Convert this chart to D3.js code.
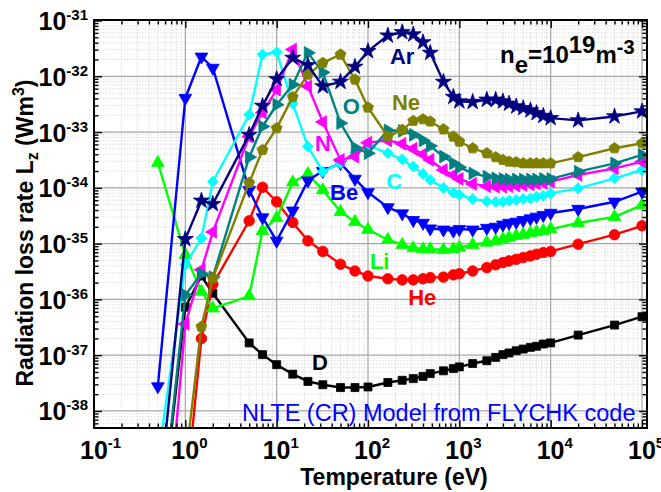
<!DOCTYPE html>
<html>
<head>
<meta charset="utf-8">
<script src="https://cdn.jsdelivr.net/npm/d3@7"></script>
<style>
body { margin: 0; background: #fff; }
svg { display: block; font-family: "Liberation Sans", Arial, sans-serif; }
</style>
</head>
<body>
<svg id="chart" width="661" height="492"></svg>
<script>
// temperature grid (eV), shared by every element
var temps = [0.5, 1, 1.5, 2, 5, 7, 10, 15, 22, 32, 50, 72, 100, 165, 237, 313, 400, 480, 670, 860,
  1000, 1400, 2000, 2500, 3000, 3500, 4200, 5000, 6000, 7000, 8300, 10000, 20000, 50000, 100000];

// log10 of L_z (W m^3); null = no point
var lzD  = [-40.5, -36.14, -35.58, -35.89, -36.78, -36.99, -37.17, -37.34, -37.47, -37.53, -37.58, -37.58, -37.57, -37.49, -37.45, -37.42, -37.38, -37.33, -37.28, -37.24,
  -37.21, -37.15, -37.10, -37.04, -36.99, -36.96, -36.92, -36.89, -36.86, -36.84, -36.80, -36.78, -36.64, -36.46, -36.31];
var lzHe = [null, -39.6, -36.70, -35.73, -34.59, -33.99, -34.25, -34.62, -34.95, -35.14, -35.37, -35.49, -35.58, -35.63, -35.65, -35.65, -35.63, -35.61, -35.60, -35.56,
  -35.54, -35.49, -35.43, -35.38, -35.34, -35.31, -35.28, -35.25, -35.22, -35.19, -35.16, -35.14, -35.01, -34.84, -34.68];
var lzLi = [-33.55, -35.20, -35.86, -36.16, -35.94, -34.77, -34.54, -33.90, -33.75, -34.04, -34.43, -34.61, -34.75, -34.93, -35.02, -35.08, -35.10, -35.10, -35.11, -35.10,
  -35.07, -35.02, -34.98, -34.95, -34.92, -34.89, -34.86, -34.84, -34.81, -34.79, -34.77, -34.74, -34.63, -34.52, -34.31];
var lzBe = [-37.56, -32.39, -31.65, -31.85, -34.04, -34.53, -34.95, -34.41, -33.87, -33.70, -33.56, -33.84, -34.08, -34.35, -34.46, -34.58, -34.63, -34.73, -34.75, -34.77,
  -34.74, -34.75, -34.72, -34.70, -34.66, -34.63, -34.61, -34.58, -34.55, -34.52, -34.49, -34.45, -34.38, -34.25, -34.07];
var lzC  = [-38.9, -35.38, -34.90, -33.89, -32.69, -31.61, -31.57, -32.49, -33.26, -33.71, -33.56, -33.37, -33.24, -33.38, -33.49, -33.62, -33.75, -33.86, -34.00, -34.09,
  -34.13, -34.20, -34.24, -34.25, -34.25, -34.23, -34.22, -34.20, -34.19, -34.16, -34.14, -34.10, -34.01, -33.83, -33.68];
var lzN  = [-42, -36.44, -35.47, -34.79, -33.08, -32.65, -32.24, -31.52, -32.18, -32.82, -33.50, -33.44, -33.19, -33.15, -33.21, -33.30, -33.40, -33.50, -33.68, -33.77,
  -33.84, -33.93, -33.97, -33.98, -33.98, -33.97, -33.96, -33.95, -33.94, -33.92, -33.91, -33.89, -33.77, -33.65, -33.53];
var lzO  = [-40.5, -35.92, -35.54, -35.60, -33.45, -32.90, -32.51, -32.15, -31.58, -31.93, -32.84, -33.28, -33.38, -32.97, -32.98, -33.05, -33.15, -33.25, -33.44, -33.56,
  -33.63, -33.74, -33.80, -33.83, -33.84, -33.85, -33.85, -33.85, -33.85, -33.85, -33.84, -33.84, -33.71, -33.56, -33.41];
var lzNe = [null, -38.93, -36.49, -35.62, -33.91, -33.32, -32.93, -32.37, -31.97, -31.76, -31.61, -32.06, -32.56, -33.08, -32.96, -32.80, -32.77, -32.81, -32.95, -33.08,
  -33.17, -33.29, -33.38, -33.45, -33.50, -33.53, -33.54, -33.56, -33.56, -33.56, -33.56, -33.56, -33.45, -33.29, -33.20];
var lzAr = [-39.8, -34.92, -34.23, -34.29, -33.05, -32.53, -32.05, -31.67, -31.80, -32.18, -32.10, -31.83, -31.55, -31.27, -31.21, -31.25, -31.39, -31.58, -32.10, -32.37,
  -32.45, -32.46, -32.42, -32.42, -32.45, -32.49, -32.54, -32.57, -32.61, -32.66, -32.71, -32.75, -32.79, -32.72, -32.63];

var elements = ['D', 'He', 'Li', 'Be', 'C', 'N', 'O', 'Ne', 'Ar'];
var colors = ['#000000', '#ff0000', '#00ff00', '#0000ff', '#00ffff', '#ff00ff', '#008080', '#808000', '#000080'];
var markers = ['square', 'circle', 'up', 'down', 'diamond', 'left', 'right', 'pentagon', 'star'];
var values = [lzD, lzHe, lzLi, lzBe, lzC, lzN, lzO, lzNe, lzAr];
// where each element name sits (temperature, L_z at the text baseline)
var labelT = [24.4, 275, 105, 38.4, 158, 26.3, 53, 183, 174];
var labelL = [5.5e-38, 7.9e-37, 3.5e-36, 6.0e-35, 9.5e-35, 4.6e-34, 2.1e-33, 2.5e-33, 1.65e-32];

var svg = d3.select('#chart');
var pLeft = 94, pRight = 647, pTop = 20, pBottom = 428;
var x = d3.scaleLog().domain([0.1, 1e5]).range([94, 642]);
var y = d3.scaleLog().domain([4.95e-39, 1e-31]).range([428, 20.5]);

var xMajor = d3.range(-1, 6).map(function (k) { return Math.pow(10, k); });
var yMajor = d3.range(-38, -30).map(function (k) { return Math.pow(10, k); });
var xMinor = [], yMinor = [];
d3.range(-1, 5).forEach(function (k) {
  d3.range(2, 10).forEach(function (m) { xMinor.push(m * Math.pow(10, k)); });
});
d3.range(-39, -31).forEach(function (k) {
  d3.range(2, 10).forEach(function (m) {
    var v = m * Math.pow(10, k);
    if (v >= 4.95e-39) yMinor.push(v);
  });
});

svg.append('rect').attr('width', 661).attr('height', 492).attr('fill', '#fff');

// grid
var grid = svg.append('g');
grid.selectAll('line.xm').data(xMinor).enter().append('line')
  .attr('x1', x).attr('x2', x).attr('y1', pTop).attr('y2', pBottom)
  .attr('stroke', '#d4d4d4').attr('stroke-width', 0.8).attr('stroke-dasharray', '1.5,1.5');
grid.selectAll('line.ym').data(yMinor).enter().append('line')
  .attr('y1', y).attr('y2', y).attr('x1', pLeft).attr('x2', pRight)
  .attr('stroke', '#d4d4d4').attr('stroke-width', 0.8).attr('stroke-dasharray', '1.5,1.5');
grid.selectAll('line.xM').data(xMajor).enter().append('line')
  .attr('x1', x).attr('x2', x).attr('y1', pTop).attr('y2', pBottom)
  .attr('stroke', '#a6a6a6').attr('stroke-width', 1.2);
grid.selectAll('line.yM').data(yMajor).enter().append('line')
  .attr('y1', y).attr('y2', y).attr('x1', pLeft).attr('x2', pRight)
  .attr('stroke', '#a6a6a6').attr('stroke-width', 1.2);

// series
svg.append('clipPath').attr('id', 'clip').append('rect')
  .attr('x', pLeft).attr('y', pTop).attr('width', pRight - pLeft).attr('height', pBottom - pTop);
var plotG = svg.append('g').attr('clip-path', 'url(#clip)');

var symbolPentagon = {
  draw: function (ctx, size) {
    var r = Math.sqrt(size / (2.5 * Math.sin(2 * Math.PI / 5)));
    for (var i = 0; i < 5; i++) {
      var a = -Math.PI / 2 + i * 2 * Math.PI / 5;
      if (i === 0) ctx.moveTo(r * Math.cos(a), r * Math.sin(a));
      else ctx.lineTo(r * Math.cos(a), r * Math.sin(a));
    }
    ctx.closePath();
  }
};
var symbolDefs = {
  square: [d3.symbolSquare, 64, 0],
  circle: [d3.symbolCircle, 88, 0],
  up: [d3.symbolTriangle, 70, 0],
  down: [d3.symbolTriangle, 70, 180],
  left: [d3.symbolTriangle, 70, -90],
  right: [d3.symbolTriangle, 70, 90],
  diamond: [d3.symbolSquare, 60, 45],
  pentagon: [symbolPentagon, 78, 0],
  star: [d3.symbolStar, 80, 0]
};

var line = d3.line()
  .defined(function (d) { return d[1] !== null; })
  .x(function (d) { return x(d[0]); })
  .y(function (d) { return y(Math.pow(10, d[1])); });

elements.forEach(function (el, i) {
  var pts = temps.map(function (t, j) { return [t, values[i][j]]; });
  var g = plotG.append('g').attr('class', 'series-' + el);
  g.append('path').datum(pts).attr('d', line)
    .attr('fill', 'none').attr('stroke', colors[i]).attr('stroke-width', 2.4)
    .attr('stroke-linejoin', 'round');
  var def = symbolDefs[markers[i]];
  var sym = d3.symbol().type(def[0]).size(def[1]);
  g.selectAll('path.m').data(pts.filter(function (d) { return d[1] !== null; }))
    .enter().append('path')
    .attr('d', sym)
    .attr('transform', function (d) {
      return 'translate(' + x(d[0]) + ',' + y(Math.pow(10, d[1])) + ') rotate(' + def[2] + ')';
    })
    .attr('fill', colors[i]).attr('stroke', colors[i]).attr('stroke-width', 0.8);
});

// element labels
elements.forEach(function (el, i) {
  svg.append('text')
    .attr('x', x(labelT[i])).attr('y', y(labelL[i]))
    .attr('font-size', 22).attr('font-weight', 'bold')
    .attr('fill', colors[i]).text(el);
});

// ticks (inward on all four sides)
function tickAxis(gen, ticks, size, transform) {
  svg.append('g').attr('transform', transform)
    .call(gen.tickValues(ticks).tickSize(-size).tickSizeOuter(0).tickFormat(''))
    .call(function (g) {
      g.select('.domain').remove();
      g.selectAll('line').attr('stroke', '#000').attr('stroke-width', 1.4);
    });
}
tickAxis(d3.axisBottom(x), xMajor, 8, 'translate(0,' + pBottom + ')');
tickAxis(d3.axisBottom(x), xMinor, 4.5, 'translate(0,' + pBottom + ')');
tickAxis(d3.axisTop(x), xMajor, 8, 'translate(0,' + pTop + ')');
tickAxis(d3.axisTop(x), xMinor, 4.5, 'translate(0,' + pTop + ')');
tickAxis(d3.axisLeft(y), yMajor, 8, 'translate(' + pLeft + ',0)');
tickAxis(d3.axisLeft(y), yMinor, 4.5, 'translate(' + pLeft + ',0)');
tickAxis(d3.axisRight(y), yMajor, 8, 'translate(' + pRight + ',0)');
tickAxis(d3.axisRight(y), yMinor, 4.5, 'translate(' + pRight + ',0)');

svg.append('rect')
  .attr('x', pLeft).attr('y', pTop).attr('width', pRight - pLeft).attr('height', pBottom - pTop)
  .attr('fill', 'none').attr('stroke', '#000').attr('stroke-width', 2);

// tick labels
yMajor.forEach(function (v) {
  var t = svg.append('text').attr('x', 88).attr('y', y(v) + 9.5)
    .attr('text-anchor', 'end').attr('font-weight', 'bold').attr('fill', '#000');
  t.append('tspan').attr('font-size', 25).text('10');
  t.append('tspan').attr('font-size', 15).attr('dy', -10).text(Math.round(Math.log10(v)));
});
xMajor.forEach(function (v) {
  var t = svg.append('text').attr('x', x(v) - 14).attr('y', 459)
    .attr('font-weight', 'bold').attr('fill', '#000');
  t.append('tspan').attr('font-size', 25).text('10');
  t.append('tspan').attr('font-size', 15).attr('dy', -11).text(Math.round(Math.log10(v)));
});

// axis titles
svg.append('text').attr('x', 394).attr('y', 485).attr('text-anchor', 'middle')
  .attr('font-size', 23).attr('font-weight', 'bold').text('Temperature (eV)');
var yt = svg.append('text').attr('transform', 'translate(33,233) rotate(-90)')
  .attr('text-anchor', 'middle').attr('font-size', 23).attr('font-weight', 'bold');
yt.append('tspan').text('Radiation loss rate L');
yt.append('tspan').attr('font-size', 16).attr('dy', 5).text('z');
yt.append('tspan').attr('dy', -5).text(' (Wm');
yt.append('tspan').attr('font-size', 16).attr('dy', -9).text('3');
yt.append('tspan').attr('dy', 9).text(')');

// density note
var ne = svg.append('text').attr('x', 500).attr('y', 63).attr('font-size', 24)
  .attr('font-weight', 'bold').attr('fill', '#000');
ne.append('tspan').text('n');
ne.append('tspan').attr('dy', 10).text('e');
ne.append('tspan').attr('dy', -10).text('=10');
ne.append('tspan').attr('dy', -10).text('19');
ne.append('tspan').attr('dy', 10).text('m');
ne.append('tspan').attr('dy', -9).attr('font-size', 20).text('-3');

svg.append('text').attr('x', 242).attr('y', 421).attr('font-size', 23.5)
  .attr('fill', '#0000ff').text('NLTE (CR) Model from FLYCHK code');
</script>
</body>
</html>
